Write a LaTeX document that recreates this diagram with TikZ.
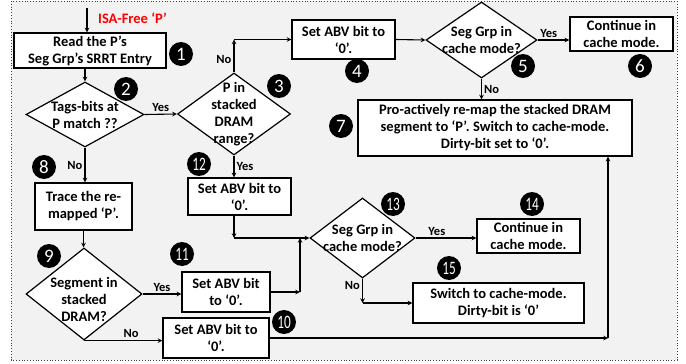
\documentclass[tikz,border=0pt]{standalone}
\usepackage{fontspec}
\setmainfont{Carlito}
\usepackage{graphicx}
\usepackage{xcolor}
\definecolor{panelgray}{RGB}{242, 242, 242}
\definecolor{isared}{RGB}{255, 0, 0}
\usepackage{tikz}
\usetikzlibrary{
    shapes.geometric,
    arrows.meta,
    positioning
}
\tikzstyle{box} = [
    rectangle, draw,
    line width=1.2pt,
    text centered,
    align=center,
    draw=black,
    fill=white,
    inner sep=1pt
]
\tikzstyle{decision} = [
    diamond,
    aspect=1,
    draw,
    line width=1.2pt,
    fill=white,
    inner sep=0pt
]
\tikzstyle{num} = [
    circle,
    fill=black,
    text=white,
    inner sep=0pt,
    minimum size=24pt,
    font=\mdseries\fontsize{19}{19}\selectfont
]
\tikzstyle{lbl} = [
    font=\bfseries\fontsize{12.5}{13}\selectfont,
    inner sep=2pt
]
\tikzstyle{arrow} = [
    line width=1.1pt,
    ->,
    >=stealth
]
\newcommand{\twodig}[1]{\scalebox{0.7}[1]{#1}}

\begin{document}
\begin{tikzpicture}[
    x=1pt, y=-1pt,
    font=\bfseries\fontsize{14.5}{17}\selectfont,
    every label/.style={align=center}
]
\useasboundingbox (0,0) rectangle (686,364);
\fill[panelgray] (11,1) rectangle (677,360);
\draw[dotted, black!75, line width=0.8pt] (11,1) rectangle (677,360);

\coordinate (start) at (87,8);
\node (entry) [text=isared] at (132.5,18) {ISA-Free ‘P’};

\node (step1) [box, minimum width=152pt, minimum height=35pt] at (90,50.5)
    {Read the P’s\\Seg Grp’s SRRT Entry};
\node (step2) [decision, minimum width=118pt, minimum height=65pt,
    label=center:{Tags-bits at\\P match ??}] at (85,114.5) {};
\node (step3) [decision, minimum width=113pt, minimum height=82pt,
    label=center:{P in\\stacked\\DRAM\\range?}] at (234,114) {};
\node (step4) [box, minimum width=103pt, minimum height=39pt] at (343.5,39.5)
    {Set ABV bit to\\‘0’.};
\node (step5) [decision, minimum width=111pt, minimum height=76pt,
    label=center:{Seg Grp in\\cache mode?}] at (481.5,40) {};
\node (step6) [box, minimum width=103pt, minimum height=34pt] at (621.5,34)
    {Continue in\\cache mode.};
\node (step7) [box, minimum width=274pt, minimum height=56pt] at (495,128)
    {Pro-actively re-map the stacked DRAM\\segment to ‘P’. Switch to cache-mode.\\Dirty-bit set to ‘0’.};
\node (step8) [box, minimum width=97pt, minimum height=47pt] at (83.5,206.5)
    {Trace the re-\\mapped ‘P’.};
\node (step9) [decision, minimum width=116pt, minimum height=92pt,
    label={[yshift=-5pt]center:{Segment in\\stacked\\DRAM?}}] at (84,294) {};
\node (step10) [box, minimum width=106pt, minimum height=40pt] at (216,338)
    {Set ABV bit to\\‘0’.};
\node (step11) [box, minimum width=88pt, minimum height=40pt] at (226,292)
    {Set ABV bit\\to ‘0’.};
\node (step12) [box, minimum width=103pt, minimum height=37pt] at (239.5,196.5)
    {Set ABV bit to\\‘0’.};
\node (step13) [decision, minimum width=105pt, minimum height=80pt,
    label=center:{Seg Grp in\\cache mode?}] at (362.5,238) {};
\node (step14) [box, minimum width=103pt, minimum height=34pt] at (528.5,236)
    {Continue in\\cache mode.};
\node (step15) [box, minimum width=171pt, minimum height=40pt] at (498.5,303)
    {Switch to cache-mode.\\Dirty-bit is ‘0’};

% Nummern
\node (n1) [num] at (181,54) {1};
\node (n2) [num] at (126,89) {2};
\node (n3) [num] at (279,86) {3};
\node (n4) [num] at (357,71) {4};
\node (n5) [num] at (523,66) {5};
\node (n6) [num] at (640,66) {6};
\node (n7) [num] at (341,126) {7};
\node (n8) [num] at (44,167) {8};
\node (n9) [num] at (49,256) {9};
\node (n10) [num] at (284,322) {\twodig{10}};
\node (n11) [num] at (182,254) {\twodig{11}};
\node (n12) [num] at (199,164) {\twodig{12}};
\node (n13) [num] at (393,204) {\twodig{13}};
\node (n14) [num] at (532,204) {\twodig{14}};
\node (n15) [num] at (449,268) {\twodig{15}};

% Knickpunkte
\coordinate (bend3) at (step3.north |- step4.west);
\coordinate (join13) at (300,238);
\coordinate (bend11) at (step11.east -| join13);
\coordinate (bend12) at (step3.south |- step13.west);
\coordinate (bend13) at (step13.south |- step15.west);
\coordinate (bend10) at (608,338);

\draw [arrow] (start) -- (start |- step1.north);
\draw [arrow] (step2.north |- step1.south) -- (step2.north);
\draw [arrow] (step2.east) -- node[lbl, above] {Yes} (step3.west);
\draw [arrow] (step3.north) -- node[lbl, left, pos=0.4] {No} (bend3);
\draw [arrow] (bend3) -- (step4.west);
\draw [arrow] (step4.east) -- (step5.west);
\draw [arrow] (step5.east) -- node[lbl, above, pos=0.35] {Yes} (step5.east -| step6.west);
\draw [arrow] (step5.south) -- node[lbl, right] {No} (step5.south |- step7.north);
\draw [arrow] (step2.south) -- node[lbl, left] {No} (step2.south |- step8.north);
\draw [arrow] (step3.south) -- node[lbl, right] {Yes} (step3.south |- step12.north);
\draw [arrow] (step8.south) -- (step8.south |- step9.north);
\draw [arrow] (step9.east) -- node[lbl, above] {Yes} (step9.east -| step11.west);
\draw [arrow] (step9.south) -- node[lbl, above, pos=0.6] {No} (step9.south -| step10.west);
\draw [arrow] (step3.south |- step12.south) -- (bend12);
\draw [arrow] (bend12) -- (step13.west);
\draw [arrow] (step11.east) -- (bend11);
\draw [arrow] (bend11) -- (join13);
\draw [arrow] (step13.east) -- node[lbl, above, pos=0.35] {Yes} (step13.east -| step14.west);
\draw [arrow] (step13.south) -- node[lbl, left, pos=0.3] {No} (bend13);
\draw [arrow] (bend13) -- (step15.west);

% Rücksprung zu 7
\draw [arrow] (step10.east) -- (bend10);
\draw [arrow] (bend10) -- (bend10 |- step7.south);

\end{tikzpicture}
\end{document}
